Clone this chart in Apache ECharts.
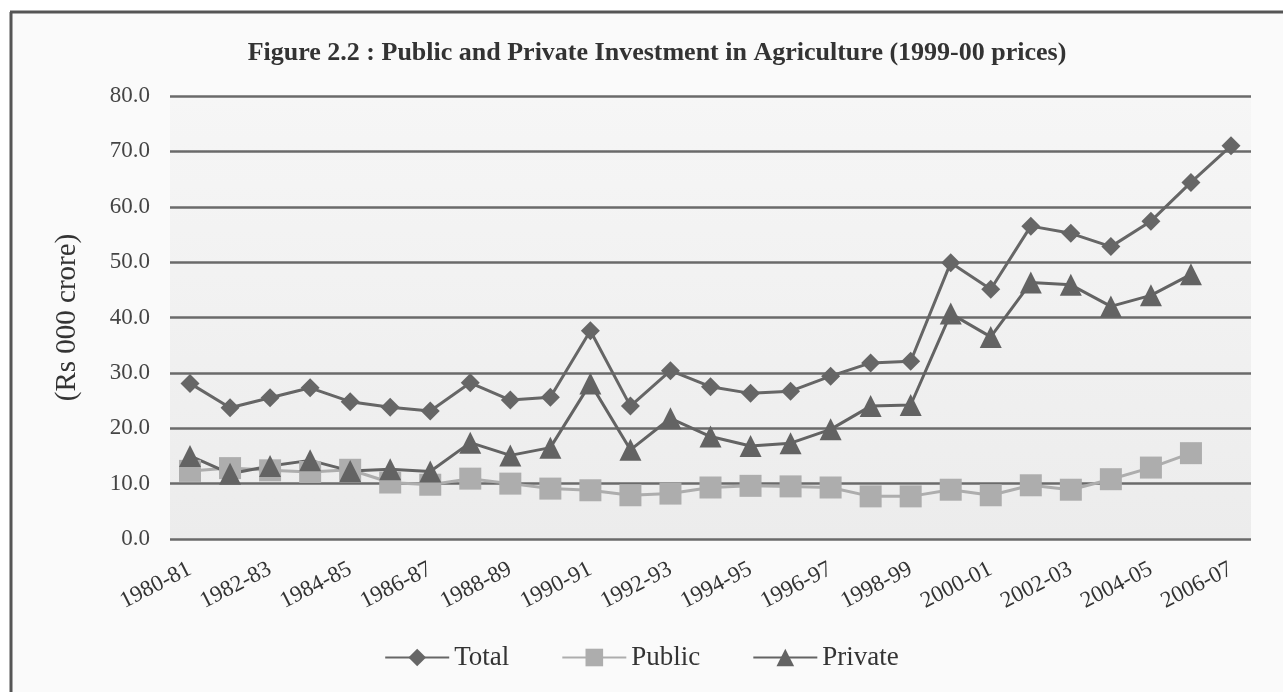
<!DOCTYPE html>
<html>
<head>
<meta charset="utf-8">
<script src="https://cdn.jsdelivr.net/npm/echarts@6/dist/echarts.min.js"></script>
<style>
html,body{margin:0;padding:0;background:#ffffff;}
#chart{width:1283px;height:692px;}
</style>
</head>
<body>
<div id="chart"></div>
<script>
const categories = ['1980-81','1981-82','1982-83','1983-84','1984-85','1985-86','1986-87','1987-88','1988-89','1989-90',
  '1990-91','1991-92','1992-93','1993-94','1994-95','1995-96','1996-97','1997-98','1998-99','1999-00',
  '2000-01','2001-02','2002-03','2003-04','2004-05','2005-06','2006-07'];
const totalValues = [28.1, 23.7, 25.5, 27.3, 24.8, 23.8, 23.1, 28.2, 25.1, 25.6,
  37.6, 24.0, 30.4, 27.5, 26.3, 26.7, 29.4, 31.8, 32.1, 49.9,
  45.1, 56.5, 55.2, 52.8, 57.4, 64.4, 71.0];
const publicValues = [12.3, 12.8, 12.4, 12.1, 12.5, 10.2, 9.8, 10.9, 10.0, 9.1,
  8.8, 7.9, 8.2, 9.3, 9.6, 9.5, 9.3, 7.7, 7.7, 8.9,
  7.9, 9.7, 8.9, 10.8, 12.9, 15.5, null];
const privateValues = [15.0, 11.8, 13.2, 14.2, 12.3, 12.6, 12.2, 17.4, 15.1, 16.5,
  28.1, 16.1, 21.8, 18.5, 16.8, 17.3, 19.8, 24.0, 24.2, 40.7,
  36.5, 46.3, 45.9, 42.0, 44.0, 47.8, null];
const yTicks = [0, 10, 20, 30, 40, 50, 60, 70, 80];

const serif = '"Liberation Serif", "DejaVu Serif", serif';
const chart = echarts.init(document.getElementById('chart'));
chart.setOption({
  backgroundColor: '#ffffff',
  animation: false,
  graphic: [
    { type: 'rect', left: 10, top: 11, shape: { width: 1273, height: 681 }, style: { fill: '#fafafa' }, z: -10 },
    { type: 'line', shape: { x1: 10, y1: 12, x2: 1283, y2: 12 }, style: { stroke: '#555', lineWidth: 3 } },
    { type: 'line', shape: { x1: 11, y1: 12, x2: 11, y2: 692 }, style: { stroke: '#555', lineWidth: 3 } }
  ],
  title: {
    text: 'Figure 2.2 : Public and Private Investment in Agriculture (1999-00 prices)',
    left: 652, top: 35, textAlign: 'center',
    textStyle: { fontFamily: serif, fontWeight: 'bold', fontSize: 26, color: '#333' }
  },
  legend: {
    bottom: 16, left: 'center',
    itemWidth: 64, itemHeight: 22, itemGap: 52,
    textStyle: { fontFamily: serif, fontSize: 27, color: '#333' },
    data: ['Total', 'Public', 'Private']
  },
  grid: {
    left: 170, right: 32, top: 96, bottom: 153,
    show: true, borderWidth: 0,
    backgroundColor: {
      type: 'linear', x: 0, y: 0, x2: 0, y2: 1,
      colorStops: [{ offset: 0, color: '#f6f6f6' }, { offset: 1, color: '#ececec' }]
    }
  },
  xAxis: {
    type: 'category', data: categories, boundaryGap: true,
    axisLine: { show: false }, axisTick: { show: false },
    axisLabel: {
      interval: 1, rotate: 27, margin: 29,
      fontFamily: serif, fontSize: 23, color: '#333'
    }
  },
  yAxis: {
    type: 'value', min: 0, max: 80, interval: 10,
    name: '(Rs 000 crore)', nameLocation: 'middle', nameGap: 88, nameRotate: 90,
    nameTextStyle: { fontFamily: serif, fontSize: 29, color: '#333' },
    axisLine: { show: false }, axisTick: { show: false },
    axisLabel: {
      margin: 20, fontFamily: serif, fontSize: 23, color: '#444',
      formatter: v => yTicks.includes(v) ? v.toFixed(1) : ''
    },
    splitLine: { show: true, lineStyle: { color: '#6a6a6a', width: 2.5 } }
  },
  series: [
    {
      name: 'Total', type: 'line', data: totalValues,
      symbol: 'diamond', symbolSize: 19,
      lineStyle: { color: '#666', width: 3 },
      itemStyle: { color: '#666' }
    },
    {
      name: 'Public', type: 'line', data: publicValues,
      symbol: 'rect', symbolSize: 22,
      lineStyle: { color: '#adadad', width: 3 },
      itemStyle: { color: '#adadad' }
    },
    {
      name: 'Private', type: 'line', data: privateValues,
      symbol: 'triangle', symbolSize: 22,
      lineStyle: { color: '#636363', width: 3 },
      itemStyle: { color: '#636363' }
    }
  ]
});
</script>
</body>
</html>
